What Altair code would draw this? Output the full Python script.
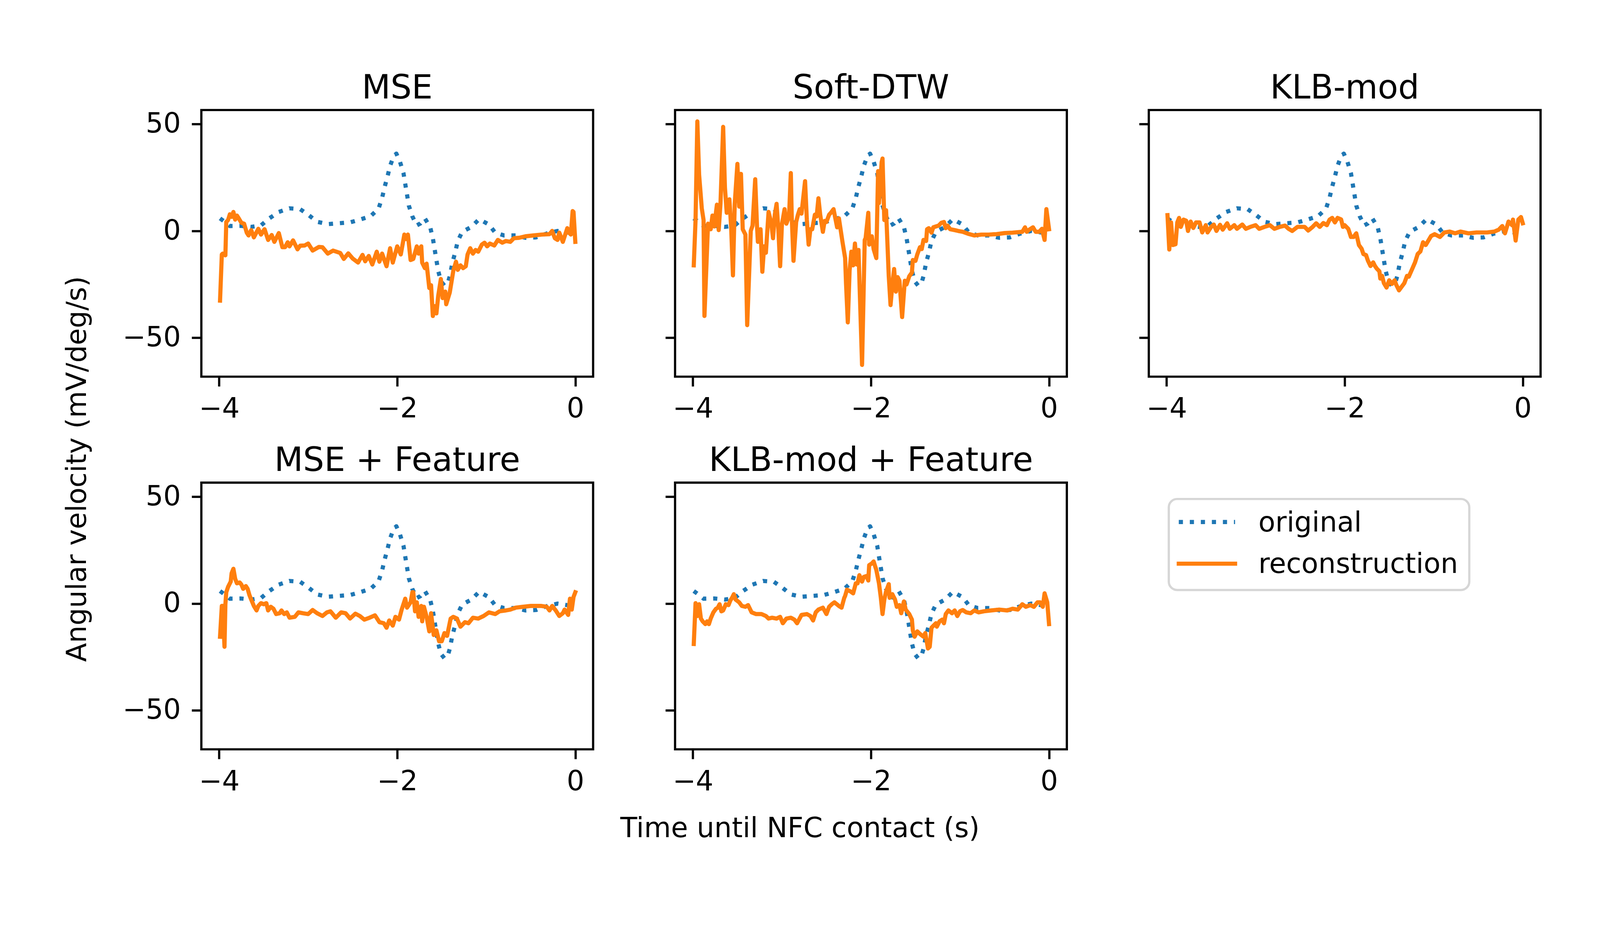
import altair as alt
import pandas as pd

# ---------------- data ----------------
titles = ["MSE", "Soft-DTW", "KLB-mod", "MSE + Feature", "KLB-mod + Feature"]
x_ticks = [-4, -2, 0]
y_ticks = [-50, 0, 50]
legend_labels = ["original", "reconstruction"]

orig_t = [-3.99, -3.93, -3.88, -3.76, -3.64, -3.53, -3.44, -3.33, -3.21, -3.09,
          -3.00, -2.90, -2.78, -2.66, -2.53, -2.42, -2.30, -2.21, -2.17, -2.14,
          -2.11, -2.08, -2.04, -2.01, -1.97, -1.93, -1.91, -1.89, -1.87, -1.83,
          -1.78, -1.74, -1.69, -1.63, -1.60, -1.58, -1.56, -1.54, -1.51, -1.47,
          -1.43, -1.41, -1.38, -1.35, -1.32, -1.27, -1.17, -1.08, -0.97, -0.90,
          -0.80, -0.67, -0.56, -0.44, -0.32, -0.20, -0.08, 0.00]
orig_v = [5.9, 4.0, 2.3, 2.4, 1.9, 2.6, 5.8, 8.9, 10.6, 10.2,
          7.6, 4.3, 3.2, 3.6, 4.0, 5.3, 6.9, 10.4, 15.5, 20.8,
          25.4, 30.5, 35.0, 36.2, 32.5, 27.1, 22.0, 17.0, 11.9, 6.8,
          2.6, 3.5, 5.9, 1.8, -3.4, -8.5, -13.6, -18.6, -23.5, -25.6,
          -24.0, -21.2, -14.8, -10.2, -4.7, -0.4, 1.8, 5.5, 3.0, -0.8,
          -2.1, -2.1, -3.2, -3.0, -1.2, 0.0, -0.8, -1.0]

mse_t = [-3.99, -3.97, -3.96, -3.93, -3.92, -3.90, -3.88, -3.86, -3.84, -3.82,
         -3.80, -3.78, -3.75, -3.72, -3.69, -3.67, -3.64, -3.61, -3.56, -3.53,
         -3.49, -3.45, -3.41, -3.38, -3.33, -3.29, -3.26, -3.23, -3.21, -3.17,
         -3.12, -3.09, -3.04, -3.00, -2.95, -2.88, -2.84, -2.78, -2.72, -2.64,
         -2.60, -2.55, -2.50, -2.44, -2.39, -2.36, -2.32, -2.28, -2.23, -2.20,
         -2.17, -2.12, -2.08, -2.05, -2.00, -1.96, -1.92, -1.90, -1.88, -1.85,
         -1.82, -1.78, -1.76, -1.73, -1.72, -1.69, -1.67, -1.64, -1.62, -1.60,
         -1.58, -1.56, -1.54, -1.51, -1.49, -1.46, -1.45, -1.41, -1.37, -1.34,
         -1.32, -1.29, -1.26, -1.23, -1.21, -1.18, -1.15, -1.12, -1.09, -1.05,
         -1.02, -0.99, -0.96, -0.91, -0.87, -0.82, -0.78, -0.73, -0.69, -0.63,
         -0.56, -0.47, -0.38, -0.29, -0.26, -0.23, -0.20, -0.18, -0.14, -0.09,
         -0.07, -0.05, -0.03, -0.02, 0.00]
mse_v = [-32.6, -11.0, -10.6, -11.4, 4.2, 5.1, 7.8, 6.6, 8.9, 5.3,
         7.2, 5.9, 3.8, 3.4, -0.8, -2.1, 0.4, -3.0, 1.0, -1.7,
         0.8, -4.2, -1.9, -5.1, -1.0, -7.6, -7.6, -5.3, -7.2, -4.4,
         -8.6, -6.9, -6.8, -5.9, -9.2, -7.5, -7.6, -10.6, -9.2, -10.3,
         -13.1, -10.5, -12.9, -14.8, -11.2, -14.2, -11.7, -15.7, -9.7, -14.4,
         -10.6, -16.5, -8.1, -14.8, -7.2, -11.0, -1.7, -3.8, -1.7, -13.6,
         -13.1, -7.2, -10.6, -7.2, -14.8, -17.4, -15.3, -26.7, -25.4, -39.8,
         -35.2, -38.6, -30.5, -22.5, -31.4, -28.4, -34.3, -28.8, -18.6, -14.4,
         -18.2, -16.1, -17.4, -16.5, -11.0, -8.1, -10.6, -8.9, -9.7, -6.4,
         -5.5, -7.2, -5.9, -6.8, -4.2, -5.5, -4.7, -5.1, -3.4, -3.2,
         -2.5, -2.1, -1.7, -1.5, 0.0, -3.4, -4.2, -0.8, -5.1, 1.3,
         -0.8, -1.7, 9.3, 8.9, -5.1]

sdtw_t = [-3.99, -3.97, -3.95, -3.93, -3.90, -3.88, -3.87, -3.84, -3.83, -3.80,
          -3.78, -3.76, -3.73, -3.71, -3.69, -3.66, -3.64, -3.62, -3.59, -3.57,
          -3.55, -3.53, -3.50, -3.48, -3.46, -3.44, -3.41, -3.39, -3.35, -3.33,
          -3.30, -3.28, -3.27, -3.24, -3.22, -3.20, -3.18, -3.15, -3.12, -3.10,
          -3.08, -3.06, -3.04, -3.02, -3.00, -2.97, -2.95, -2.92, -2.90, -2.89,
          -2.87, -2.84, -2.82, -2.80, -2.78, -2.74, -2.72, -2.70, -2.68, -2.66,
          -2.63, -2.61, -2.59, -2.57, -2.54, -2.52, -2.50, -2.47, -2.45, -2.42,
          -2.40, -2.38, -2.36, -2.32, -2.29, -2.28, -2.26, -2.24, -2.22, -2.20,
          -2.18, -2.16, -2.14, -2.10, -2.07, -2.06, -2.03, -2.02, -1.99, -1.97,
          -1.94, -1.92, -1.91, -1.88, -1.87, -1.85, -1.83, -1.80, -1.78, -1.76,
          -1.74, -1.72, -1.70, -1.68, -1.65, -1.62, -1.60, -1.57, -1.54, -1.53,
          -1.50, -1.48, -1.45, -1.43, -1.41, -1.38, -1.37, -1.35, -1.32, -1.30,
          -1.27, -1.24, -1.21, -1.18, -1.16, -1.14, -1.11, -1.06, -1.02, -0.97,
          -0.91, -0.84, -0.76, -0.68, -0.59, -0.50, -0.41, -0.30, -0.27, -0.25,
          -0.23, -0.18, -0.15, -0.11, -0.08, -0.05, -0.03, 0.00]
sdtw_v = [-16.1, 5.1, 51.3, 26.3, 10.6, 5.1, -39.8, -7.6, 3.4, 0.8,
          7.2, 2.1, 12.3, 0.4, 12.7, 48.7, 20.3, 8.5, 14.8, 1.7,
          -20.8, 12.7, 31.4, 11.4, 26.7, 0.8, -1.7, -44.1, 0.0, 2.5,
          24.2, 2.5, -5.1, 0.8, -19.1, -7.2, -10.2, 8.9, 3.8, -3.4,
          7.6, 12.7, 0.8, -16.5, 3.0, 10.2, 3.4, 6.8, 27.1, 7.2,
          -14.0, 4.2, 7.6, 10.2, 8.1, 23.3, 5.1, -6.4, 0.8, 0.8,
          7.6, 6.8, 15.3, 7.6, -0.4, 4.7, 4.2, 7.6, 8.5, 10.2,
          5.9, 1.7, 5.9, -5.1, -12.7, -24.6, -42.8, -18.6, -9.7, -16.1,
          -5.9, -15.7, -8.9, -62.7, -4.2, -3.4, 8.5, -6.4, -2.5, -8.5,
          -12.7, 28.0, 13.1, 32.2, 33.9, 5.1, 9.7, -21.2, -34.7, -25.4,
          -17.8, -28.4, -21.6, -23.3, -40.3, -23.3, -25.0, -21.2, -19.5, -13.6,
          -14.0, -11.0, -7.6, -8.5, -4.2, -4.7, 0.8, 1.3, -0.8, 1.7,
          2.1, 2.5, 3.8, 4.2, 1.3, 2.5, 0.8, 0.4, 0.0, -0.4,
          -1.3, -2.1, -1.7, -1.7, -1.5, -1.0, -0.8, -0.4, 1.7, -0.4,
          0.4, 1.7, -0.4, -0.4, 1.0, -4.2, 10.2, 0.8]

klb_t = [-3.99, -3.97, -3.95, -3.93, -3.90, -3.88, -3.86, -3.84, -3.81, -3.78,
         -3.76, -3.73, -3.70, -3.67, -3.63, -3.60, -3.56, -3.54, -3.50, -3.47,
         -3.44, -3.40, -3.37, -3.32, -3.29, -3.24, -3.21, -3.15, -3.11, -3.06,
         -3.00, -2.96, -2.90, -2.84, -2.79, -2.73, -2.67, -2.63, -2.59, -2.53,
         -2.45, -2.41, -2.36, -2.32, -2.28, -2.24, -2.20, -2.17, -2.14, -2.11,
         -2.08, -2.04, -2.02, -2.00, -1.96, -1.93, -1.90, -1.87, -1.84, -1.81,
         -1.79, -1.76, -1.74, -1.71, -1.68, -1.66, -1.64, -1.61, -1.60, -1.58,
         -1.56, -1.53, -1.50, -1.47, -1.44, -1.42, -1.39, -1.36, -1.33, -1.30,
         -1.28, -1.24, -1.21, -1.18, -1.15, -1.12, -1.09, -1.06, -1.03, -0.99,
         -0.93, -0.88, -0.82, -0.76, -0.70, -0.61, -0.52, -0.40, -0.32, -0.27,
         -0.23, -0.20, -0.16, -0.12, -0.11, -0.08, -0.05, -0.02, 0.00]
klb_v = [7.4, -8.7, 4.0, -6.6, -6.2, 4.0, 6.1, 1.9, 5.3, 4.8,
         0.0, 4.4, 1.4, 4.0, 4.0, -0.7, 2.7, -0.7, 1.9, 3.0,
         0.0, 2.9, 0.6, 3.6, 1.0, 2.7, 1.0, 3.0, 1.0, 1.9,
         2.7, 1.0, 1.9, 2.7, 1.0, 1.9, 2.5, 1.0, 0.0, 1.9,
         1.9, 0.2, 1.9, 3.6, 1.9, 3.7, 2.7, 5.3, 6.1, 4.0,
         6.1, 5.4, 1.9, 2.7, 1.0, -2.8, -2.8, -1.1, -6.6, -8.3,
         -10.8, -11.3, -13.8, -16.4, -14.7, -16.4, -17.6, -18.9, -22.3, -21.0,
         -24.4, -26.5, -23.1, -24.8, -23.1, -25.3, -27.8, -26.1, -24.4, -21.0,
         -21.4, -17.6, -14.7, -10.8, -9.6, -5.3, -6.6, -4.5, -2.4, -1.5,
         -2.8, -0.7, -0.3, -1.1, -0.3, -1.1, -0.7, -0.7, -0.3, 0.6,
         2.3, -1.1, 4.4, 2.7, 5.3, -4.5, 5.3, 6.5, 3.6]

msef_t = [-3.99, -3.97, -3.96, -3.94, -3.93, -3.92, -3.90, -3.87, -3.86, -3.84,
          -3.82, -3.80, -3.77, -3.75, -3.73, -3.70, -3.68, -3.66, -3.64, -3.61,
          -3.58, -3.56, -3.53, -3.50, -3.47, -3.45, -3.42, -3.39, -3.36, -3.32,
          -3.30, -3.27, -3.24, -3.21, -3.15, -3.11, -3.06, -3.00, -2.95, -2.90,
          -2.84, -2.79, -2.75, -2.69, -2.63, -2.58, -2.53, -2.47, -2.42, -2.37,
          -2.31, -2.25, -2.20, -2.15, -2.12, -2.09, -2.05, -2.02, -1.98, -1.95,
          -1.91, -1.89, -1.85, -1.83, -1.82, -1.80, -1.78, -1.76, -1.73, -1.72,
          -1.70, -1.67, -1.64, -1.62, -1.59, -1.56, -1.53, -1.50, -1.47, -1.44,
          -1.40, -1.37, -1.33, -1.29, -1.24, -1.20, -1.15, -1.09, -1.03, -0.97,
          -0.90, -0.85, -0.78, -0.73, -0.67, -0.59, -0.50, -0.38, -0.32, -0.29,
          -0.26, -0.22, -0.18, -0.14, -0.12, -0.08, -0.06, -0.04, -0.02, 0.00]
msef_v = [-15.5, -1.1, -1.1, -20.2, -0.3, 5.3, 7.8, 10.3, 14.2, 16.3,
          11.6, 9.5, 9.9, 8.9, 6.9, 8.2, 6.9, 4.0, 1.9, -1.1,
          -3.2, -1.1, 0.2, -0.3, 0.2, -3.2, -1.5, -2.4, -4.9, -4.5,
          -3.2, -4.9, -4.1, -6.6, -6.2, -4.1, -4.5, -4.9, -3.0, -4.5,
          -5.8, -4.1, -3.6, -6.6, -4.1, -4.5, -7.0, -4.7, -5.8, -7.5,
          -6.6, -5.5, -8.7, -9.2, -11.3, -7.9, -10.3, -6.2, -7.5, -2.8,
          2.3, -1.9, 0.6, 5.3, 5.3, -3.6, 0.6, -6.2, -1.1, -8.3,
          -1.5, -6.2, -13.0, -4.5, -14.7, -12.5, -17.6, -17.6, -13.8, -15.1,
          -7.0, -6.2, -7.0, -10.8, -8.7, -9.2, -6.6, -7.0, -5.8, -4.1,
          -4.9, -3.6, -3.2, -2.8, -1.9, -1.5, -1.1, -1.1, -1.5, -3.2,
          -1.1, -3.2, -5.8, -4.5, -2.8, -5.3, 2.3, -2.8, 3.1, 5.3]

klbf_t = [-3.99, -3.97, -3.95, -3.93, -3.91, -3.89, -3.86, -3.84, -3.82, -3.80,
          -3.77, -3.74, -3.72, -3.70, -3.68, -3.66, -3.63, -3.60, -3.58, -3.56,
          -3.54, -3.52, -3.48, -3.45, -3.41, -3.38, -3.34, -3.29, -3.23, -3.18,
          -3.15, -3.11, -3.06, -3.02, -2.99, -2.95, -2.90, -2.86, -2.83, -2.78,
          -2.72, -2.68, -2.65, -2.62, -2.59, -2.54, -2.50, -2.47, -2.44, -2.41,
          -2.36, -2.33, -2.30, -2.29, -2.27, -2.23, -2.20, -2.17, -2.15, -2.13,
          -2.10, -2.08, -2.05, -2.03, -2.02, -1.99, -1.97, -1.94, -1.91, -1.89,
          -1.87, -1.85, -1.83, -1.80, -1.79, -1.76, -1.73, -1.71, -1.68, -1.66,
          -1.63, -1.61, -1.57, -1.54, -1.53, -1.51, -1.48, -1.45, -1.41, -1.39,
          -1.36, -1.34, -1.32, -1.30, -1.27, -1.26, -1.23, -1.20, -1.18, -1.16,
          -1.13, -1.09, -1.06, -1.03, -1.00, -0.97, -0.93, -0.88, -0.84, -0.79,
          -0.73, -0.65, -0.56, -0.47, -0.41, -0.35, -0.30, -0.26, -0.21, -0.17,
          -0.13, -0.10, -0.07, -0.05, -0.02, 0.00]
klbf_v = [-18.9, 0.2, -5.8, -0.3, -7.0, -8.3, -9.6, -8.3, -9.6, -7.0,
          -4.1, -2.4, -1.9, -0.3, -3.6, -3.2, -0.3, -0.7, 1.4, 2.7,
          4.4, 1.9, 0.6, -1.1, -1.5, -0.7, -4.1, -4.9, -4.9, -5.8,
          -7.0, -6.6, -7.0, -6.2, -9.2, -7.0, -6.6, -7.5, -9.2, -5.3,
          -4.9, -5.8, -7.9, -4.1, -2.8, -1.9, -4.9, -1.5, -0.3, 0.6,
          -1.1, -1.9, 2.7, 3.6, 6.5, 5.7, 4.8, 9.5, 9.5, 13.3,
          10.3, 12.5, 12.9, 10.8, 18.0, 18.8, 19.7, 15.8, 9.5, 3.1,
          -4.9, 1.9, 5.7, 9.1, 2.7, 4.4, 1.9, -1.5, -0.7, -4.5,
          1.0, -2.8, -4.9, -7.5, -12.5, -15.5, -13.0, -14.2, -15.5, -13.8,
          -21.0, -20.2, -11.3, -10.4, -9.2, -10.8, -8.3, -7.5, -9.2, -4.9,
          -3.2, -4.5, -3.2, -5.8, -3.6, -3.0, -4.1, -4.5, -3.2, -4.1,
          -3.6, -3.2, -2.8, -3.2, -2.4, -2.8, -0.3, -1.5, -0.7, -1.5,
          0.6, 0.6, -1.5, 4.8, 0.6, -9.6]

recon_t = [mse_t, sdtw_t, klb_t, msef_t, klbf_t]
recon_v = [mse_v, sdtw_v, klb_v, msef_v, klbf_v]

# ---------------- styling ----------------
BLUE = "#1f77b4"
ORANGE = "#ff7f0e"
FONT = "DejaVu Sans"
LW = 12.5
DOT = [12.5, 20.6]
XDOM = [-4.2, 0.2]
YDOM = [-68.2, 56.6]
W, H = 1176, 800
MINUS = "datum.value < 0 ? '\u2212' + format(-datum.value, 'd') : format(datum.value, 'd')"
one = pd.DataFrame({"k": [0]})


def panel(idx, col, extras=()):
    xs = alt.Scale(domain=XDOM, nice=False, zero=False)
    ys = alt.Scale(domain=YDOM, nice=False, zero=False)
    xax = alt.Axis(values=x_ticks, title="", labelExpr=MINUS, labelPadding=27,
                   labelFlush=False)
    if col == 0:
        yax = alt.Axis(values=y_ticks, title="", labelExpr=MINUS, labelPadding=33)
    else:
        yax = alt.Axis(values=y_ticks, title="", labels=False)
    df_o = pd.DataFrame({"t": orig_t, "v": orig_v, "i": list(range(len(orig_t)))})
    df_r = pd.DataFrame({"t": recon_t[idx], "v": recon_v[idx],
                         "i": list(range(len(recon_t[idx])))})
    o = alt.Chart(df_o).mark_line(color=BLUE, strokeWidth=LW, strokeDash=DOT,
                                  strokeJoin="round").encode(
        x=alt.X("t:Q", scale=xs, axis=xax),
        y=alt.Y("v:Q", scale=ys, axis=yax),
        order="i:Q")
    r = alt.Chart(df_r).mark_line(color=ORANGE, strokeWidth=LW, strokeJoin="round",
                                  strokeCap="square").encode(
        x=alt.X("t:Q", scale=xs, axis=xax),
        y=alt.Y("v:Q", scale=ys, axis=yax),
        order="i:Q")
    ttl = alt.Chart(one).mark_text(text=titles[idx], align="center",
                                   baseline="alphabetic", fontSize=100, font=FONT,
                                   color="black").encode(
        x=alt.value(W / 2), y=alt.value(-35))
    return alt.layer(o, r, ttl, *extras).properties(width=W, height=H)


ylabel = alt.Chart(one).mark_text(text="Angular velocity (mV/deg/s)", angle=270,
                                  align="center", baseline="alphabetic",
                                  fontSize=83, font=FONT, color="black").encode(
    x=alt.value(-347), y=alt.value(1077))
xlabel = alt.Chart(one).mark_text(text="Time until NFC contact (s)", align="center",
                                  baseline="alphabetic", fontSize=83, font=FONT,
                                  color="black").encode(
    x=alt.value(375), y=alt.value(1063))

p0 = panel(0, 0, (ylabel,))
p1 = panel(1, 1)
p2 = panel(2, 2)
p3 = panel(3, 0)
p4 = panel(4, 1, (xlabel,))

# legend drawn as its own panel
leg_box = alt.Chart(one).mark_rect(fill="white", stroke="#d6d6d6", strokeWidth=6.7,
                                   cornerRadius=25).encode(
    x=alt.value(60), x2=alt.value(962), y=alt.value(49), y2=alt.value(322))
leg_l1 = alt.Chart(one).mark_rule(color=BLUE, strokeWidth=LW, strokeDash=DOT).encode(
    x=alt.value(90), x2=alt.value(259), y=alt.value(118))
leg_l2 = alt.Chart(one).mark_rule(color=ORANGE, strokeWidth=LW, strokeCap="square").encode(
    x=alt.value(90), x2=alt.value(259), y=alt.value(243))
leg_t1 = alt.Chart(one).mark_text(text=legend_labels[0], align="left", baseline="alphabetic",
                                  fontSize=83, font=FONT, color="black").encode(
    x=alt.value(329), y=alt.value(147))
leg_t2 = alt.Chart(one).mark_text(text=legend_labels[1], align="left", baseline="alphabetic",
                                  fontSize=83, font=FONT, color="black").encode(
    x=alt.value(329), y=alt.value(271))
legend = alt.layer(leg_box, leg_l1, leg_l2, leg_t1, leg_t2).properties(
    width=W, height=H, view=alt.ViewBackground(stroke="transparent"))

# fixed page: 4784 x 2384 drawing area, first plot area at (595, 115)
chart = alt.concat(p0, p1, p2, p3, p4, legend, columns=3,
                   spacing={"row": 318, "column": 246}, bounds="flush").properties(
    autosize=alt.AutoSizeParams(type="none"),
    padding={"left": 595, "top": 115, "right": 4189, "bottom": 2269},
    background="white"
).configure_view(
    stroke="black", strokeWidth=6.7
).configure_axis(
    domain=False, grid=False, ticks=True, tickSize=29, tickWidth=6.7,
    tickColor="black", labelFont=FONT, labelFontSize=83, labelColor="black"
)

chart.save("out.html", embed_options={"renderer": "svg", "actions": False})
